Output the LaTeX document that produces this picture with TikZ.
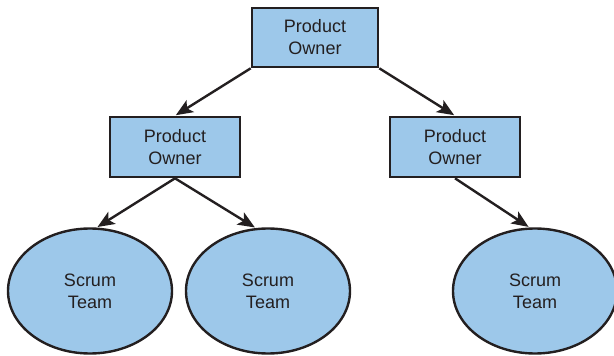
\documentclass[tikz,border=0pt]{standalone}
\usepackage{fontspec}
\setmainfont{Liberation Sans}
\usetikzlibrary{arrows.meta,shapes.geometric}
\definecolor{boxfill}{HTML}{9DC8EA}
\definecolor{ink}{HTML}{231F20}
\tikzset{
  every node/.style={font=\fontsize{18}{22}\selectfont, text=ink, align=center},
  owner/.style={draw=ink, line width=2.6pt, fill=boxfill, rectangle,
    minimum width=126pt, minimum height=59pt, inner sep=0pt},
  team/.style={draw=ink, line width=2.4pt, fill=boxfill, ellipse,
    minimum width=164pt, minimum height=125pt, inner sep=0pt},
  link/.style={draw=ink, line width=2.4pt, shorten >=1pt,
    -{Stealth[length=17pt,width=14pt,inset=4pt]}}
}
\begin{document}
\begin{tikzpicture}[x=1pt,y=-1pt]
  \useasboundingbox (0,0) rectangle (614,356);
  \node[owner] (po) at (315,37.5) {Product\\Owner};
  \node[owner, minimum width=130pt, minimum height=60pt] (pl) at (175,147) {Product\\Owner};
  \node[owner, minimum width=130pt, minimum height=60pt] (pr) at (455,147) {Product\\Owner};
  \node[team] (t1) at (90,291) {Scrum\\Team};
  \node[team] (t2) at (268,291) {Scrum\\Team};
  \node[team] (t3) at (535,291) {Scrum\\Team};
  \draw[link] (po.south west) -- (pl.north);
  \draw[link] (po.south east) -- (pr.north);
  \draw[link] (pl.south) -- (t1.84);
  \draw[link] (pl.south) -- (t2.101);
  \draw[link] (pr.south) -- (t3.95);
\end{tikzpicture}
\end{document}
